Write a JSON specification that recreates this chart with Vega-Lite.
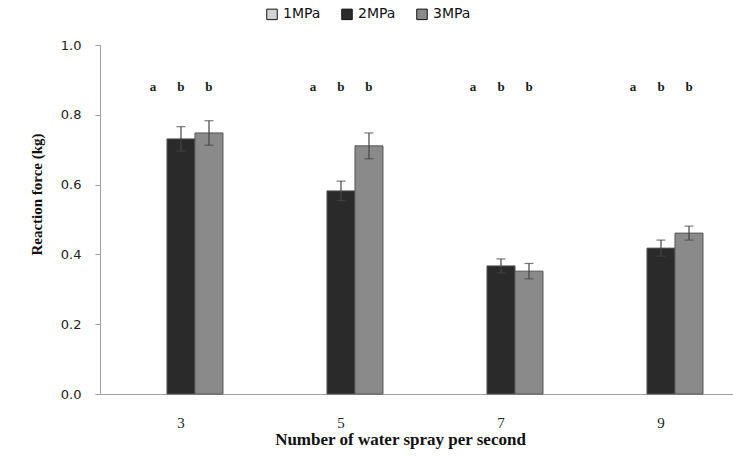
{
  "$schema": "https://vega.github.io/schema/vega-lite/v6.json",
  "autosize": {"type": "none"},
  "padding": {"left": 100, "top": 45, "right": 0, "bottom": 63},
  "width": 633,
  "height": 349,
  "background": "white",
  "config": {"view": {"stroke": null}},
  "data": {"values": [
    {"spray": "3", "pressure": "1MPa", "value": 0, "lo": null, "hi": null, "sig": "a"},
    {"spray": "3", "pressure": "2MPa", "value": 0.731, "lo": 0.696, "hi": 0.766, "sig": "b"},
    {"spray": "3", "pressure": "3MPa", "value": 0.748, "lo": 0.713, "hi": 0.783, "sig": "b"},
    {"spray": "5", "pressure": "1MPa", "value": 0, "lo": null, "hi": null, "sig": "a"},
    {"spray": "5", "pressure": "2MPa", "value": 0.582, "lo": 0.554, "hi": 0.610, "sig": "b"},
    {"spray": "5", "pressure": "3MPa", "value": 0.711, "lo": 0.674, "hi": 0.748, "sig": "b"},
    {"spray": "7", "pressure": "1MPa", "value": 0, "lo": null, "hi": null, "sig": "a"},
    {"spray": "7", "pressure": "2MPa", "value": 0.367, "lo": 0.347, "hi": 0.387, "sig": "b"},
    {"spray": "7", "pressure": "3MPa", "value": 0.352, "lo": 0.330, "hi": 0.374, "sig": "b"},
    {"spray": "9", "pressure": "1MPa", "value": 0, "lo": null, "hi": null, "sig": "a"},
    {"spray": "9", "pressure": "2MPa", "value": 0.418, "lo": 0.395, "hi": 0.441, "sig": "b"},
    {"spray": "9", "pressure": "3MPa", "value": 0.461, "lo": 0.441, "hi": 0.481, "sig": "b"}
  ]},
  "encoding": {
    "x": {
      "field": "spray", "type": "nominal", "sort": ["3", "5", "7", "9"],
      "scale": {"paddingInner": 0.475, "paddingOuter": 0.2156, "align": 0.565},
      "axis": {
        "title": "Number of water spray per second",
        "labelAngle": 0,
        "ticks": false,
        "domainColor": "#a0a0a0",
        "labelFont": "Liberation Serif",
        "labelFontSize": 15,
        "labelColor": "#222",
        "labelPadding": 21,
        "titleFont": "Liberation Serif",
        "titleFontSize": 17,
        "titleFontWeight": "bold",
        "titleColor": "#111",
        "titlePadding": 1,
        "titleX": 300
      }
    },
    "xOffset": {"field": "pressure", "type": "nominal", "scale": {"domain": ["1MPa", "2MPa", "3MPa"], "paddingInner": 0, "paddingOuter": 0}}
  },
  "layer": [
    {
      "mark": {"type": "bar", "stroke": "#555", "strokeWidth": 1},
      "encoding": {
        "y": {
          "field": "value", "type": "quantitative",
          "scale": {"domain": [0, 1]},
          "axis": {
            "title": "Reaction force (kg)",
            "values": [0, 0.2, 0.4, 0.6, 0.8, 1.0],
            "format": ".1f",
            "grid": false,
            "domainColor": "#a0a0a0",
            "tickColor": "#a0a0a0",
            "tickSize": 5,
            "labelFont": "DejaVu Sans",
            "labelFontSize": 13,
            "labelColor": "#222",
            "labelPadding": 14,
            "titleFont": "Liberation Serif",
            "titleFontSize": 15,
            "titleFontWeight": "bold",
            "titleColor": "#111",
            "titlePadding": 16,
            "titleY": 149
          }
        },
        "strokeOpacity": {"condition": {"test": "datum.value > 0", "value": 1}, "value": 0},
        "fill": {
          "field": "pressure", "type": "nominal",
          "scale": {"domain": ["1MPa", "2MPa", "3MPa"], "range": ["#d4d4d4", "#2a2a2a", "#8a8a8a"]},
          "legend": {
            "title": null,
            "orient": "none",
            "direction": "horizontal",
            "columns": 3,
            "legendX": 165,
            "legendY": -38,
            "symbolType": "square",
            "symbolSize": 110,
            "symbolStrokeColor": "#111",
            "symbolStrokeWidth": 1,
            "labelFont": "DejaVu Sans",
            "labelFontSize": 14,
            "labelColor": "#111",
            "labelOffset": 4,
            "columnPadding": 18
          }
        }
      }
    },
    {
      "transform": [{"filter": "isValid(datum.hi)"}],
      "mark": {"type": "rule", "color": "#444", "strokeWidth": 1.2},
      "encoding": {
        "y": {"field": "lo", "type": "quantitative"},
        "y2": {"field": "hi"}
      }
    },
    {
      "transform": [{"filter": "isValid(datum.hi)"}],
      "mark": {"type": "tick", "color": "#444", "size": 9, "thickness": 1.2},
      "encoding": {
        "y": {"field": "hi", "type": "quantitative"}
      }
    },
    {
      "transform": [{"filter": "isValid(datum.hi)"}],
      "mark": {"type": "tick", "color": "#444", "size": 9, "thickness": 1.2},
      "encoding": {
        "y": {"field": "lo", "type": "quantitative"}
      }
    },
    {
      "mark": {"type": "text", "font": "Liberation Serif", "fontSize": 13, "fontWeight": "bold", "color": "#1a1a1a", "baseline": "middle"},
      "encoding": {
        "y": {"datum": 0.88, "type": "quantitative"},
        "text": {"field": "sig"}
      }
    }
  ]
}
